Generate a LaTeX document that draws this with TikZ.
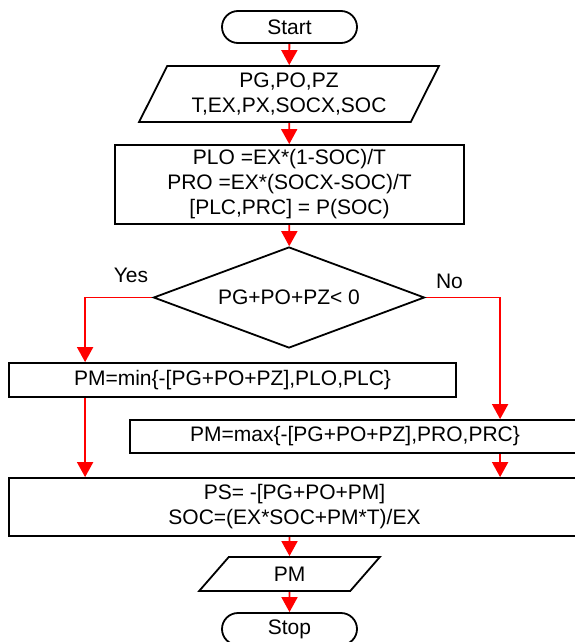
\documentclass[tikz,border=0pt]{standalone}
\usepackage{fontspec}
\setmainfont{Liberation Sans}
\usetikzlibrary{positioning}
\usetikzlibrary{shapes.geometric}
\usetikzlibrary{arrows.meta}
\pgfdeclarelayer{background}
\pgfsetlayers{background,main}

\begin{document}
\begin{tikzpicture}[x=0.5pt,y=-0.5pt,
	every node/.style={font=\fontsize{10.5}{12.5}\selectfont, align=center, inner sep=0pt},
	termnode/.style={draw=black, line width=0.9pt, rounded corners=8pt, minimum width=67.5pt, minimum height=16pt},
	ionode/.style={draw=black, line width=0.9pt, trapezium, trapezium left angle=62, trapezium right angle=118, trapezium stretches=true},
	procnode/.style={draw=black, line width=0.9pt, rectangle},
	condnode/.style={draw=black, line width=0.9pt, diamond, aspect=2.68, minimum width=135.5pt, minimum height=50.5pt},
	flowline/.style={draw=red, line width=0.9pt, -{Triangle[length=7.5pt,width=8pt]}},
	]
	\useasboundingbox (0,0) rectangle (574,642);
	%Nodes
	\node[termnode]      (start)  at (289.5,27)   {Start};
	\node[ionode, minimum width=150pt, minimum height=28pt]      (input)  at (289,94)   {PG,PO,PZ\\T,EX,PX,SOCX,SOC};
	\node[procnode, minimum width=174.5pt, minimum height=39.5pt]     (calc)   at (289.5,184.5) {PLO =EX*(1-SOC)/T\\PRO =EX*(SOCX-SOC)/T\\{}[PLC,PRC] = P(SOC)};
	\node[condnode]      (cond)   at (289,297.5)  {PG+PO+PZ< 0};
	\node                (yes)    at (131,275)    {Yes};
	\node                (no)     at (449.5,281)  {No};
	\node[procnode, minimum width=223.5pt, minimum height=17pt]     (pmin)   at (232.5,380)  {PM=min\{-[PG+PO+PZ],PLO,PLC\}};
	\node[procnode, minimum width=225pt, minimum height=16.5pt]     (pmax)   at (355,436.5)  {PM=max\{-[PG+PO+PZ],PRO,PRC\}};
	\node[procnode, minimum width=285.5pt, minimum height=29pt]     (update) at (294.5,507)  {PS= -[PG+PO+PM]\\SOC=(EX*SOC+PM*T)/EX};
	\node[ionode, minimum width=90.5pt, minimum height=17pt]      (pmout)  at (289.5,574)  {PM};
	\node[termnode]      (stop)   at (289.5,629)  {Stop};

	\begin{pgfonlayer}{background}
	%Lines
	\draw[flowline] (start) -- (input);
	\draw[flowline] (input) -- (calc);
	\draw[flowline] (calc) -- (cond);
	\draw[flowline] (cond.west) -| ([xshift=38.5pt]pmin.north west);
	\draw[flowline] (cond.east) -| ([xshift=185.5pt]pmax.north west);
	\draw[flowline] ([xshift=38.5pt]pmin.south west) -- ([xshift=38.5pt]pmin.south west |- update.north);
	\draw[flowline] ([xshift=185.5pt]pmax.south west) -- ([xshift=185.5pt]pmax.south west |- update.north);
	\draw[flowline] (update.south -| pmout.north) -- (pmout);
	\draw[flowline] (pmout) -- (stop);
	\end{pgfonlayer}
\end{tikzpicture}
\end{document}
